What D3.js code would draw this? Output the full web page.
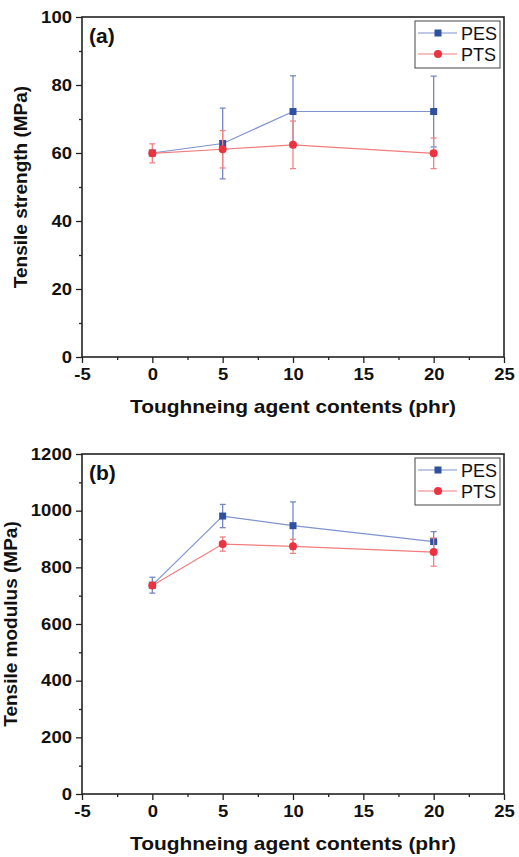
<!DOCTYPE html>
<html>
<head>
<meta charset="utf-8">
<script src="https://cdn.jsdelivr.net/npm/d3@7"></script>
<style>
  body { margin: 0; background: #fff; }
  svg { display: block; font-family: "Liberation Sans", Arial, sans-serif; }
</style>
</head>
<body>
<script>
// Data
const contents = [0, 5, 10, 20];
const seriesNames = ['PES', 'PTS'];

const pesStrength = [60.0, 62.8, 72.2, 72.2];
const pesStrengthErr = [0.5, 10.4, 10.5, 10.4];
const ptsStrength = [59.9, 61.1, 62.4, 59.9];
const ptsStrengthErr = [2.8, 5.5, 7.0, 4.5];

const pesModulus = [737, 981, 947, 891];
const pesModulusErr = [28, 41, 84, 35];
const ptsModulus = [736, 882, 874, 854];
const ptsModulusErr = [10, 25, 25, 50];

const xTicks = [-5, 0, 5, 10, 15, 20, 25];
const strengthTicks = [0, 20, 40, 60, 80, 100];
const modulusTicks = [0, 200, 400, 600, 800, 1000, 1200];

// Layout
const W = 519, H = 857;
const left = 82, right = 504, plotH = 340;

const colors = {
    PES: { mark: '#2f4f9f', line: '#7f93cf', err: '#7488c6' },
    PTS: { mark: '#ec3340', line: '#f27c7c', err: '#f08484' }
};

// plain hyphen minus, no thousands separator
const fmt = d => (d < 0 ? '-' + Math.abs(d) : String(d));

const svg = d3.select('body').append('svg')
    .attr('width', W)
    .attr('height', H);

function drawPanel(top, label, yTitle, yTicks, yMinorStep, titleX, series) {
    const g = svg.append('g');
    const x = d3.scaleLinear().domain([-5, 25]).range([left, right]);
    const y = d3.scaleLinear().domain([0, d3.max(yTicks)]).range([top + plotH, top]);

    // minor ticks
    const yMinor = d3.range(yMinorStep, d3.max(yTicks), yMinorStep * 2);
    g.append('g')
        .attr('transform', `translate(${left},0)`)
        .call(d3.axisLeft(y).tickValues(yMinor).tickSize(3).tickFormat(''))
        .call(a => a.select('.domain').remove());
    g.append('g')
        .attr('transform', `translate(0,${top + plotH})`)
        .call(d3.axisBottom(x).tickValues(d3.range(-2.5, 25, 5)).tickSize(3).tickFormat(''))
        .call(a => a.select('.domain').remove());

    // major axes
    const yAxis = g.append('g')
        .attr('transform', `translate(${left},0)`)
        .call(d3.axisLeft(y).tickValues(yTicks).tickSize(6).tickPadding(3).tickFormat(fmt));
    const xAxis = g.append('g')
        .attr('transform', `translate(0,${top + plotH})`)
        .call(d3.axisBottom(x).tickValues(xTicks).tickSize(6).tickPadding(5).tickFormat(fmt));

    [yAxis, xAxis].forEach(a => {
        a.select('.domain').remove();
        a.selectAll('text')
            .style('font-size', '16.5px')
            .style('font-weight', 'bold')
            .attr('transform', 'scale(1.12,1)')
            .attr('fill', '#111');
    });
    g.selectAll('.tick line').attr('stroke', '#222').attr('stroke-width', 1.3);

    // frame
    g.append('rect')
        .attr('x', left).attr('y', top)
        .attr('width', right - left).attr('height', plotH)
        .attr('fill', 'none')
        .attr('stroke', '#222')
        .attr('stroke-width', 1.6);

    // axis titles
    g.append('text')
        .attr('x', (left + right) / 2)
        .attr('y', top + plotH + 56)
        .attr('text-anchor', 'middle')
        .attr('textLength', 326)
        .attr('lengthAdjust', 'spacingAndGlyphs')
        .style('font-size', '19px')
        .style('font-weight', 'bold')
        .attr('fill', '#111')
        .text('Toughneing agent contents (phr)');

    g.append('text')
        .attr('transform', `translate(${titleX},${top + plotH / 2}) rotate(-90)`)
        .attr('text-anchor', 'middle')
        .style('font-size', '19px')
        .style('font-weight', 'bold')
        .attr('fill', '#111')
        .text(yTitle);

    // panel label
    g.append('text')
        .attr('x', 89)
        .attr('y', top + 26)
        .style('font-size', '21px')
        .style('font-weight', 'bold')
        .attr('fill', '#111')
        .text(label);

    // series
    series.forEach(s => {
        const c = colors[s.name];
        const pts = contents.map((v, i) => ({ x: v, y: s.values[i], e: s.errs[i] }));

        g.append('path')
            .datum(pts)
            .attr('fill', 'none')
            .attr('stroke', c.line)
            .attr('stroke-width', 1.2)
            .attr('d', d3.line().x(d => x(d.x)).y(d => y(d.y)));

        const eb = g.append('g').attr('stroke', c.err).attr('stroke-width', 1.3);
        pts.forEach(d => {
            eb.append('line')
                .attr('x1', x(d.x)).attr('x2', x(d.x))
                .attr('y1', y(d.y - d.e)).attr('y2', y(d.y + d.e));
            [d.y - d.e, d.y + d.e].forEach(v => {
                eb.append('line')
                    .attr('x1', x(d.x) - 3).attr('x2', x(d.x) + 3)
                    .attr('y1', y(v)).attr('y2', y(v));
            });
        });

        if (s.name === 'PES') {
            g.selectAll(null).data(pts).join('rect')
                .attr('x', d => x(d.x) - 3.5)
                .attr('y', d => y(d.y) - 3.5)
                .attr('width', 7).attr('height', 7)
                .attr('fill', c.mark);
        } else {
            g.selectAll(null).data(pts).join('circle')
                .attr('cx', d => x(d.x))
                .attr('cy', d => y(d.y))
                .attr('r', 4)
                .attr('fill', c.mark);
        }
    });

    // legend
    const lg = g.append('g');
    lg.append('rect')
        .attr('x', 415).attr('y', top + 4)
        .attr('width', 85).attr('height', 47)
        .attr('fill', '#fff')
        .attr('stroke', '#444')
        .attr('stroke-width', 1);
    seriesNames.forEach((name, i) => {
        const c = colors[name];
        const ly = top + 16 + i * 21;
        lg.append('line')
            .attr('x1', 418).attr('x2', 457)
            .attr('y1', ly).attr('y2', ly)
            .attr('stroke', c.line)
            .attr('stroke-width', 1.2);
        if (name === 'PES') {
            lg.append('rect')
                .attr('x', 434.5).attr('y', ly - 3.5)
                .attr('width', 7).attr('height', 7)
                .attr('fill', c.mark);
        } else {
            lg.append('circle')
                .attr('cx', 438).attr('cy', ly).attr('r', 4)
                .attr('fill', c.mark);
        }
        lg.append('text')
            .attr('x', 461)
            .attr('y', ly + 6.5)
            .style('font-size', '18px')
            .attr('fill', '#111')
            .text(name);
    });
}

drawPanel(17, '(a)', 'Tensile strength (MPa)', strengthTicks, 10, 27, [
    { name: 'PES', values: pesStrength, errs: pesStrengthErr },
    { name: 'PTS', values: ptsStrength, errs: ptsStrengthErr }
]);

drawPanel(454, '(b)', 'Tensile modulus (MPa)', modulusTicks, 100, 17, [
    { name: 'PES', values: pesModulus, errs: pesModulusErr },
    { name: 'PTS', values: ptsModulus, errs: ptsModulusErr }
]);
</script>
</body>
</html>
